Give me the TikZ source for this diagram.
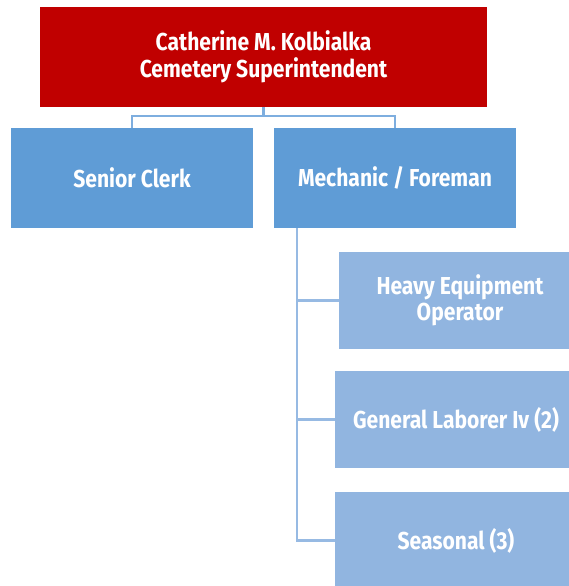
\documentclass[tikz,border=0pt]{standalone}
\usepackage{fontspec}
\setmainfont{Fira Sans}[FakeStretch=0.86]
\definecolor{chiefred}{HTML}{C00000}
\definecolor{midblue}{HTML}{5F9CD6}
\definecolor{paleblue}{HTML}{91B5E0}
\definecolor{linkblue}{HTML}{7EAEDF}
\definecolor{stemblue}{HTML}{97BAE3}
\begin{document}
\begin{tikzpicture}[x=1pt,y=-1pt,
  box/.style={draw=none,inner sep=0pt,align=center,text=white,
    font=\fontsize{24.5}{26.5}\selectfont\bfseries},
  chief/.style={box,fill=chiefred,minimum width=447pt,minimum height=100pt},
  staff/.style={box,fill=midblue,minimum width=242pt,minimum height=100pt},
  crew/.style={box,fill=paleblue,minimum width=242pt,minimum height=97pt},
  link/.style={draw=linkblue,line width=2.8pt},
  stem/.style={draw=stemblue,line width=2.8pt}]
\useasboundingbox (0,0) rectangle (569,586);
\clip (0,0) rectangle (569,586);
% boxes
\node[chief] (sup) at (263.5,57) {Catherine M. Kolbialka\\Cemetery Superintendent};
\node[staff] (clerk) at (132,178) {Senior Clerk};
\node[staff] (mech) at (395,178) {Mechanic / Foreman};
\node[crew] (heavy) at (460,300.5) {Heavy Equipment\\Operator};
\node[crew] (labor) at (456,419.5) {General Laborer Iv (2)};
\node[crew] (season) at (456,540.5) {Seasonal (3)};
% superintendent to direct reports
\coordinate (bus) at (sup.south |- 0,116);
\draw[link] (sup.south) -- (bus);
\draw[link] (clerk.north) -- (clerk.north |- bus) -- (mech.north |- bus) -- (mech.north);
% foreman to crew
\coordinate (trunk) at (297,228);
\draw[stem] (trunk) -- (trunk |- season.west) -- (season.west);
\draw[stem] (trunk |- heavy.west) -- (heavy.west);
\draw[stem] (trunk |- labor.west) -- (labor.west);
\end{tikzpicture}
\end{document}
